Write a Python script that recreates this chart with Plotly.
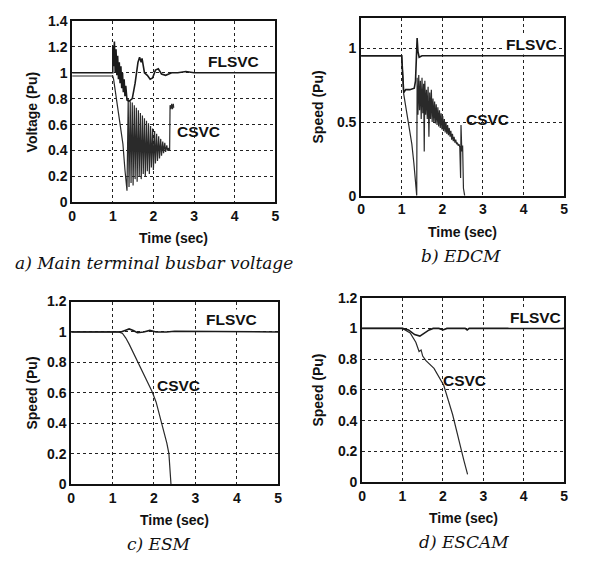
import plotly.graph_objects as go

# the page has an 8px body margin, so the figure is 16px smaller than the window
OFF = 8
FW, FH = 590 - 2 * OFF, 571 - 2 * OFF


def px(X):
    return (X - OFF) / FW


def py(Y):
    return 1 - (Y - OFF) / FH


# ---- a) Main terminal busbar voltage ----
a_fl_t = [0, 1.0, 1.0, 1.02, 1.04, 1.06, 1.08, 1.10, 1.12, 1.14, 1.16, 1.18, 1.20, 1.22, 1.24,
          1.26, 1.28, 1.30, 1.32, 1.35, 1.40, 1.48, 1.55, 1.62, 1.66, 1.70, 1.72, 1.78, 1.85,
          1.92, 1.98, 2.05, 2.12, 2.20, 2.30, 2.45, 2.60, 2.80, 3.0, 5.0]
a_fl_v = [1.0, 1.0, 1.21, 1.05, 1.24, 1.0, 1.18, 0.98, 1.13, 0.95, 1.08, 0.92, 1.05, 0.88, 1.0,
          0.85, 0.95, 0.82, 0.90, 0.79, 0.78, 0.80, 0.92, 1.08, 1.12, 1.08, 1.11, 1.00, 0.98,
          0.95, 0.96, 1.02, 1.03, 0.99, 0.98, 1.0, 1.0, 1.01, 1.0, 1.0]
a_cs_t = [0, 1.0, 1.02, 1.13, 1.25, 1.30, 1.35,
          1.38, 1.40, 1.43, 1.45, 1.48, 1.50, 1.53, 1.55, 1.58, 1.60, 1.63, 1.65, 1.68, 1.70,
          1.73, 1.75, 1.78, 1.80, 1.83, 1.85, 1.88, 1.90, 1.93, 1.95, 1.98, 2.00, 2.03, 2.05,
          2.08, 2.10, 2.13, 2.15, 2.18, 2.20, 2.23, 2.25, 2.28, 2.30, 2.33, 2.35, 2.38, 2.40,
          2.41, 2.43, 2.45, 2.47, 2.49, 2.50]
a_cs_v = [0.975, 0.975, 0.95, 0.69, 0.45, 0.25, 0.09,
          0.80, 0.12, 0.78, 0.15, 0.77, 0.13, 0.75, 0.18, 0.73, 0.16, 0.71, 0.20, 0.69, 0.18,
          0.67, 0.22, 0.65, 0.20, 0.63, 0.24, 0.61, 0.22, 0.59, 0.27, 0.57, 0.25, 0.55, 0.30,
          0.53, 0.32, 0.51, 0.34, 0.49, 0.36, 0.47, 0.38, 0.46, 0.39, 0.44, 0.40, 0.42, 0.40,
          0.75, 0.72, 0.76, 0.72, 0.76, 0.73]

# ---- b) EDCM ----
b_fl_t = [0, 1.0, 1.05, 1.1, 1.2, 1.31, 1.34, 1.38, 1.40, 1.43, 1.50, 5.0]
b_fl_v = [0.95, 0.95, 0.70, 0.72, 0.72, 0.73, 0.78, 1.07, 0.98, 0.94, 0.95, 0.95]
b_cs_t = [0, 1.0, 1.05, 1.15, 1.25, 1.30, 1.37,
          1.38, 1.40, 1.42, 1.44, 1.46, 1.48, 1.50, 1.52, 1.54, 1.555, 1.57, 1.59, 1.61, 1.63,
          1.65, 1.67, 1.69, 1.71, 1.73, 1.75, 1.77, 1.79, 1.81, 1.83, 1.85, 1.87, 1.89, 1.91,
          1.93, 1.95, 1.97, 1.99, 2.01, 2.03, 2.05, 2.07, 2.09, 2.11, 2.13, 2.15, 2.17, 2.19,
          2.21, 2.23, 2.25, 2.27, 2.29, 2.31, 2.33, 2.35, 2.37, 2.39, 2.41, 2.43, 2.45, 2.46,
          2.48, 2.50, 2.52, 2.55]
b_cs_v = [0.95, 0.95, 0.69, 0.52, 0.35, 0.22, 0.0,
          0.80, 0.55, 0.82, 0.58, 0.78, 0.52, 0.80, 0.56, 0.76, 0.30, 0.78, 0.55, 0.72, 0.52,
          0.74, 0.40, 0.70, 0.52, 0.72, 0.50, 0.66, 0.50, 0.64, 0.49, 0.62, 0.48, 0.60, 0.47,
          0.58, 0.46, 0.56, 0.45, 0.54, 0.44, 0.52, 0.43, 0.50, 0.42, 0.48, 0.41, 0.46, 0.40,
          0.44, 0.38, 0.42, 0.37, 0.40, 0.36, 0.38, 0.35, 0.36, 0.34, 0.35, 0.33, 0.12, 0.48,
          0.30, 0.34, 0.05, 0.0]

# ---- c) ESM ----
c_fl_t = [0, 1.2, 1.3, 1.4, 1.5, 1.6, 1.75, 1.9, 2.05, 2.3, 2.5, 5.0]
c_fl_v = [1.0, 1.0, 1.01, 1.02, 1.01, 0.995, 1.0, 1.01, 1.0, 1.0, 1.005, 1.0]
c_cs_t = [0, 1.15, 1.24, 1.32, 1.40, 1.52, 1.62, 1.71, 1.83, 1.95, 2.05, 2.15, 2.23, 2.31, 2.36, 2.38, 2.41]
c_cs_v = [1.0, 1.0, 0.99, 0.96, 0.92, 0.85, 0.80, 0.74, 0.68, 0.61, 0.54, 0.44, 0.36, 0.27, 0.20, 0.12, 0.0]

# ---- d) ESCAM ----
d_fl_t = [0, 1.0, 1.15, 1.3, 1.43, 1.55, 1.66, 1.76, 1.9, 2.0, 2.1, 2.4, 2.55, 2.6, 2.65, 3.0, 5.0]
d_fl_v = [1.0, 1.0, 0.99, 0.96, 0.95, 0.97, 0.99, 1.0, 1.0, 0.99, 1.0, 1.0, 1.0, 0.99, 1.0, 1.0, 1.0]
d_cs_t = [0, 1.0, 1.19, 1.33, 1.41, 1.46, 1.50, 1.58, 1.78, 2.02, 2.24, 2.41, 2.52, 2.61]
d_cs_v = [1.0, 1.0, 0.97, 0.91, 0.85, 0.86, 0.82, 0.79, 0.74, 0.63, 0.44, 0.25, 0.14, 0.05]

# panel boxes in window pixels: left, right, top, bottom
panels = [
    dict(box=(69, 275, 13, 200), yr=[0, 1.4], dt=0.2, ytitle="Voltage (Pu)", ytx=28,
         fl=(a_fl_t, a_fl_v), cs=(a_cs_t, a_cs_v), fl_lab=(3.98, 1.09), cs_lab=(3.1, 0.545),
         cap="a) Main terminal busbar voltage", capx=152),
    dict(box=(362, 568, 10, 193), yr=[0, 1.207], dt=0.5, ytitle="Speed (Pu)", ytx=318,
         fl=(b_fl_t, b_fl_v), cs=(b_cs_t, b_cs_v), fl_lab=(4.2, 1.03), cs_lab=(3.1, 0.52),
         cap="b) EDCM", capx=463),
    dict(box=(68, 278, 302, 490), yr=[0, 1.2], dt=0.2, ytitle="Speed (Pu)", ytx=28,
         fl=(c_fl_t, c_fl_v), cs=(c_cs_t, c_cs_v), fl_lab=(3.86, 1.08), cs_lab=(2.6, 0.645),
         cap="c) ESM", capx=157),
    dict(box=(363, 568, 298, 488), yr=[0, 1.2], dt=0.2, ytitle="Speed (Pu)", ytx=318,
         fl=(d_fl_t, d_fl_v), cs=(d_cs_t, d_cs_v), fl_lab=(4.3, 1.07), cs_lab=(2.54, 0.66),
         cap="d) ESCAM", capx=466),
]

fig = go.Figure()
lay = {}
ann = []
tfont = dict(family="Liberation Sans, Arial", size=14, color="#111", weight="bold")
afont = dict(family="Liberation Sans, Arial", size=14, color="#111", weight="bold")
lfont = dict(family="Liberation Sans, Arial", size=15.5, color="#111", weight="bold")
capfont = dict(family="DejaVu Serif", size=17, color="#111", style="italic")

for i, p in enumerate(panels, start=1):
    l, r, t, b = p["box"]
    xa = "x" if i == 1 else f"x{i}"
    ya = "y" if i == 1 else f"y{i}"
    fig.add_trace(go.Scatter(x=p["cs"][0], y=p["cs"][1], mode="lines", xaxis=xa, yaxis=ya,
                             line=dict(color="#2a2a2a", width=1.2), showlegend=False))
    fig.add_trace(go.Scatter(x=p["fl"][0], y=p["fl"][1], mode="lines", xaxis=xa, yaxis=ya,
                             line=dict(color="#1a1a1a", width=1.6), showlegend=False))
    common = dict(showline=True, linecolor="#111", linewidth=1.8, mirror=True,
                  showgrid=True, gridcolor="#222", griddash="dot", gridwidth=1,
                  zeroline=False, ticks="", tickfont=tfont, fixedrange=True)
    lay["xaxis" if i == 1 else f"xaxis{i}"] = dict(
        domain=[px(l), px(r)], range=[0, 5], dtick=1, anchor=ya, **common)
    lay["yaxis" if i == 1 else f"yaxis{i}"] = dict(
        domain=[py(b), py(t)], range=p["yr"], dtick=p["dt"], anchor=xa, **common)
    mid = dict(showarrow=False, xanchor="center", yanchor="middle")
    ann.append(dict(x=p["fl_lab"][0], y=p["fl_lab"][1], xref=xa, yref=ya, text="FLSVC",
                    font=lfont, bgcolor="white", **mid))
    ann.append(dict(x=p["cs_lab"][0], y=p["cs_lab"][1], xref=xa, yref=ya, text="CSVC",
                    font=lfont, **mid))
    ann.append(dict(x=px((l + r) / 2), y=py(b + 37), xref="paper", yref="paper",
                    text="Time (sec)", font=afont, **mid))
    ann.append(dict(x=px(p["ytx"]), y=py((t + b) / 2), xref="paper", yref="paper",
                    text=p["ytitle"], textangle=-90, font=afont, **mid))
    ann.append(dict(x=px(p["capx"]), y=py(b + 62), xref="paper", yref="paper",
                    text=p["cap"], font=capfont, **mid))

fig.update_layout(width=FW, height=FH, margin=dict(l=0, r=0, t=0, b=0),
                  paper_bgcolor="white", plot_bgcolor="white", annotations=ann, **lay)

fig.write_html("out.html")
